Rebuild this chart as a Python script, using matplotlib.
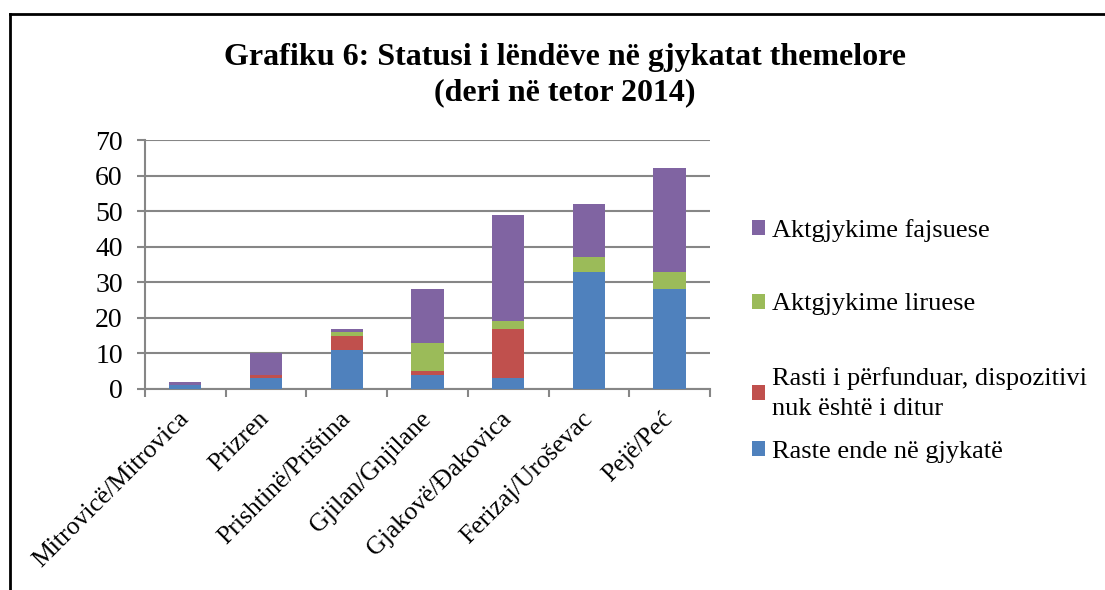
import matplotlib
matplotlib.use('Agg')
import matplotlib.pyplot as plt
from matplotlib.lines import Line2D
import numpy as np

courts = ['Mitrovicë/Mitrovica', 'Prizren', 'Prishtinë/Priština', 'Gjilan/Gnjilane',
          'Gjakovë/Đakovica', 'Ferizaj/Uroševac', 'Pejë/Peć']
pending = [1, 3, 11, 4, 3, 33, 28]
closed_unknown = [0, 1, 4, 1, 14, 0, 0]
acquittals = [0, 0, 1, 8, 2, 4, 5]
convictions = [1, 6, 1, 15, 30, 15, 29]

series = [
    ('Raste ende në gjykatë', pending, '#4F81BD'),
    ('Rasti i përfunduar, dispozitivi\nnuk është i ditur', closed_unknown, '#C0504D'),
    ('Aktgjykime liruese', acquittals, '#9BBB59'),
    ('Aktgjykime fajsuese', convictions, '#8064A2'),
]
yticks = [0, 10, 20, 30, 40, 50, 60, 70]

plt.rcParams['font.family'] = ['Liberation Serif', 'DejaVu Serif']

fig = plt.figure(figsize=(11.05, 5.9), dpi=100)
ax = fig.add_axes([145 / 1105, 1 - 389 / 590, 565 / 1105, 249 / 590])

x = np.arange(len(courts))
bottom = np.zeros(len(courts))
handles = []
for label, vals, color in series:
    b = ax.bar(x, vals, width=0.4, bottom=bottom, color=color, label=label, zorder=3)
    handles.append(b)
    bottom += np.array(vals)

ax.set_xlim(-0.5, len(courts) - 0.5)
ax.set_ylim(0, 70)
ax.set_yticks(yticks)
ax.tick_params(axis='y', labelsize=20, length=6, color='#868686', width=1.5, pad=10)
ax.yaxis.grid(True, color='#868686', linewidth=1.5, zorder=0)

ax.set_xticks(x)
ax.set_xticklabels(courts, rotation=45, ha='right', va='center', rotation_mode='anchor',
                   fontsize=18.5)
ax.tick_params(axis='x', length=0, pad=19)
ax.set_xticks(np.arange(-0.5, len(courts)), minor=True)
ax.tick_params(axis='x', which='minor', length=6, color='#868686', width=1.5)

for side in ['top', 'right']:
    ax.spines[side].set_visible(False)
for side in ['left', 'bottom']:
    ax.spines[side].set_color('#868686')
    ax.spines[side].set_linewidth(1.5)

fig.text(565 / 1105, 1 - 57 / 590, 'Grafiku 6: Statusi i lëndëve në gjykatat themelore',
         ha='center', va='center', fontsize=23, fontweight='bold')
fig.text(565 / 1105, 1 - 93 / 590, '(deri në tetor 2014)',
         ha='center', va='center', fontsize=23, fontweight='bold')

labels = [s[0] for s in series]
leg_kw = dict(loc='upper left', frameon=False, fontsize=19, handlelength=0.5,
              handleheight=0.5, handletextpad=0.25, borderpad=0, borderaxespad=0)
leg1 = fig.legend(handles[:0:-1], labels[:0:-1], bbox_to_anchor=(752 / 1105, 1 - 219 / 590),
                  labelspacing=1.95, **leg_kw)
for t in leg1.get_texts():
    t.set_linespacing(1.45)
leg2 = fig.legend(handles[:1], labels[:1], bbox_to_anchor=(752 / 1105, 1 - 441 / 590), **leg_kw)

fig.add_artist(Line2D([10 / 1105, 10 / 1105], [0, 1 - 14 / 590], color='black', linewidth=2,
                      transform=fig.transFigure))
fig.add_artist(Line2D([10 / 1105, 1], [1 - 14 / 590, 1 - 14 / 590], color='black', linewidth=2,
                      transform=fig.transFigure))

fig.savefig('out.png', dpi=100)
